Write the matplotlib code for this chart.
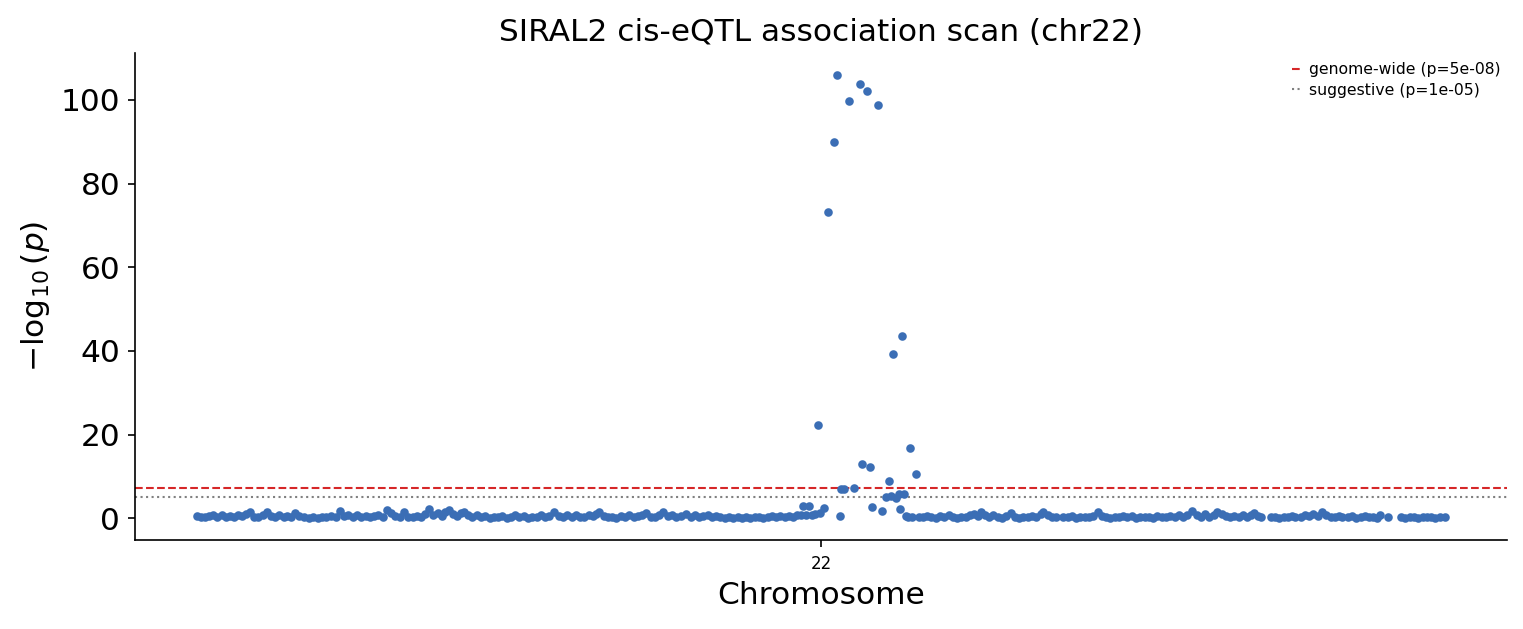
import numpy as np
import matplotlib
matplotlib.use("Agg")
import matplotlib.pyplot as plt

# === data: chr22 positions (Mb) and -log10(p) ===
chrom_label = "22"

left_pos = [16.00, 16.10, 16.22, 16.33, 16.45, 16.56, 16.68, 16.80, 16.91, 17.03,
            17.14, 17.26, 17.37, 17.48, 17.60, 17.71, 17.83, 17.96, 18.07, 18.19,
            18.30, 18.42, 18.53, 18.64, 18.74, 18.86,
            19.00, 19.13, 19.25, 19.38, 19.50, 19.62, 19.75, 19.88, 20.00, 20.12,
            20.24, 20.36, 20.48, 20.60, 20.72, 20.84, 20.96, 21.08, 21.20, 21.32,
            21.44, 21.56, 21.68, 21.80, 21.92, 22.04, 22.16, 22.28, 22.40, 22.50,
            22.62, 22.74, 22.86, 22.96, 23.06, 23.18, 23.30, 23.40, 23.48, 23.60,
            23.72, 23.84, 23.96, 24.08, 24.20, 24.32, 24.44, 24.56, 24.68, 24.80,
            24.92, 25.04, 25.16, 25.28, 25.40, 25.52, 25.64, 25.76, 25.88, 26.02,
            26.14, 26.26, 26.38, 26.50, 26.62, 26.74, 26.86, 26.98, 27.10, 27.20,
            27.28, 27.40, 27.52, 27.64, 27.76, 27.88, 28.00, 28.12, 28.24, 28.36,
            28.48, 28.60, 28.72, 28.84, 28.96, 29.08, 29.20, 29.32, 29.44, 29.56,
            29.72, 29.84, 29.96, 30.08, 30.20, 30.32, 30.44, 30.56, 30.68, 30.80,
            30.92, 31.04, 31.16, 31.28, 31.40, 31.52, 31.64, 31.76, 31.88, 32.00,
            32.12, 32.24, 32.36, 32.48, 32.60, 32.72, 32.84, 32.94]
left_val = [0.6, 0.3, 0.2, 0.5, 0.9, 0.4, 0.7, 0.2, 0.6, 0.3,
            0.8, 0.5, 1.0, 1.6, 0.4, 0.2, 0.9, 1.4, 0.6, 0.3,
            0.7, 0.2, 0.5, 0.3, 1.3, 0.6,
            0.3, 0.1, 0.2, 0.1, 0.4, 0.2, 0.6, 0.3, 1.7, 0.6,
            0.9, 0.4, 0.8, 0.3, 0.6, 0.2, 0.5, 0.9, 0.4, 1.9,
            1.2, 0.6, 0.3, 1.6, 0.4, 0.2, 0.6, 0.3, 1.1, 2.1,
            0.7, 1.3, 0.5, 1.6, 1.9, 1.0, 0.6, 1.2, 1.6, 0.7,
            0.3, 0.9, 0.2, 0.5, 0.1, 0.4, 0.2, 0.6, 0.1, 0.3,
            0.7, 0.2, 0.5, 0.1, 0.4, 0.2, 0.8, 0.3, 0.6, 1.6,
            0.5, 0.2, 0.7, 0.3, 0.9, 0.4, 0.2, 0.8, 0.5, 1.1,
            1.6, 0.6, 0.2, 0.4, 0.1, 0.6, 0.2, 0.8, 0.3, 0.5,
            0.9, 1.3, 0.4, 0.2, 0.7, 1.5, 0.5, 0.8, 0.3, 0.6,
            1.1, 0.4, 0.7, 0.2, 0.5, 0.8, 0.3, 0.6, 0.2, 0.1,
            0.3, 0.1, 0.2, 0.1, 0.3, 0.1, 0.2, 0.4, 0.1, 0.3,
            0.6, 0.2, 0.5, 0.3, 0.6, 0.4, 0.7, 0.9]

peak_pos = [33.00, 33.08, 33.16, 33.24, 33.32, 33.42, 33.46, 33.59, 33.70, 33.87,
            33.96, 34.04, 34.07, 34.15, 34.29, 34.43, 34.60, 34.65, 34.80, 34.87,
            34.94, 35.10, 35.22, 35.33, 35.40, 35.46, 35.52, 35.61, 35.69, 35.72,
            35.78, 35.83, 35.89, 35.95, 36.00, 36.06, 36.16]
peak_val = [2.9, 0.9, 2.9, 0.7, 1.1, 22.2, 1.3, 2.5, 73.3, 89.9,
            105.9, 0.5, 6.9, 6.9, 99.7, 7.2, 103.8, 12.9, 102.1, 12.2,
            2.6, 98.7, 1.8, 5.0, 8.8, 5.3, 39.3, 4.9, 5.8, 2.1,
            43.6, 5.9, 0.5, 0.3, 16.7, 0.2, 10.7]

right_pos = [36.24, 36.36, 36.48, 36.60, 36.72, 36.84, 36.96, 37.08, 37.20, 37.32,
             37.44, 37.56, 37.68, 37.80, 37.92, 38.00, 38.10, 38.22, 38.34, 38.46,
             38.58, 38.70, 38.82, 38.94, 39.06, 39.18, 39.30, 39.42, 39.54, 39.66,
             39.74, 39.86, 39.98, 40.10,
             40.30, 40.42, 40.54, 40.66, 40.78, 40.90, 41.02, 41.14, 41.26, 41.38,
             41.50, 41.62, 41.74, 41.86, 41.98, 42.10, 42.22, 42.34, 42.46, 42.58,
             42.70, 42.82, 42.94, 43.06, 43.18, 43.30, 43.42, 43.54, 43.66, 43.78,
             43.92, 44.04, 44.16, 44.28, 44.40, 44.52, 44.62, 44.74, 44.86, 44.98,
             45.10, 45.22, 45.34, 45.46, 45.56, 45.64, 45.76, 45.86,
             46.12, 46.24, 46.36, 46.48, 46.60, 46.72, 46.80,
             46.96, 47.08, 47.20, 47.32, 47.44, 47.56, 47.68, 47.80, 47.92, 48.04,
             48.12,
             48.28, 48.40, 48.52, 48.64, 48.76, 48.88, 49.00, 49.10, 49.18,
             49.40,
             49.78, 49.90, 50.02, 50.14, 50.26, 50.38, 50.50, 50.62, 50.74, 50.86,
             51.00]
right_val = [0.4, 0.2, 0.6, 0.3, 0.1, 0.5, 0.2, 0.7, 0.3, 0.1,
             0.4, 0.2, 0.8, 1.0, 0.6, 1.4, 0.7, 0.3, 0.9, 0.4,
             0.1, 0.5, 1.2, 0.3, 0.1, 0.4, 0.2, 0.6, 0.3, 1.0,
             1.6, 0.7, 0.2, 0.4,
             0.3, 0.2, 0.5, 0.1, 0.4, 0.2, 0.3, 0.6, 1.4, 0.5,
             0.3, 0.1, 0.4, 0.2, 0.6, 0.3, 0.5, 0.1, 0.3, 0.2,
             0.4, 0.1, 0.5, 0.3, 0.2, 0.6, 0.4, 0.8, 0.3, 0.9,
             1.8, 0.7, 0.3, 1.0, 0.4, 0.8, 1.6, 1.1, 0.5, 0.2,
             0.6, 0.3, 0.9, 0.4, 0.8, 1.2, 0.5, 0.3,
             0.2, 0.4, 0.1, 0.3, 0.2, 0.5, 0.3,
             0.4, 0.8, 0.5, 1.0, 0.6, 1.6, 0.9, 0.4, 0.2, 0.6,
             0.3,
             0.2, 0.5, 0.1, 0.3, 0.6, 0.2, 0.4, 0.1, 0.9,
             0.4,
             0.3, 0.1, 0.4, 0.2, 0.1, 0.3, 0.2, 0.4, 0.1, 0.3,
             0.2]

gw_p = 5e-8
sugg_p = 1e-5

pos = np.array(left_pos + peak_pos + right_pos)
logp = np.array(left_val + peak_val + right_val)

# === plot ===
fig, ax = plt.subplots(figsize=(1523 / 150, 629 / 150), dpi=150)
fig.subplots_adjust(left=0.0886, right=0.9895, top=0.9157, bottom=0.1415)

ax.scatter(pos, logp, s=17, color="#3b6eb5", linewidths=0, zorder=3)

ax.axhline(-np.log10(gw_p), color="#d62728", ls="--", lw=1.0,
           label=f"genome-wide (p={gw_p:.0e})")
ax.axhline(-np.log10(sugg_p), color="gray", ls=":", lw=1.0,
           label=f"suggestive (p={sugg_p:.0e})")

ax.set_xticks([(pos.min() + pos.max()) / 2])
ax.set_xticklabels([chrom_label], fontsize=8)
ax.tick_params(axis="y", labelsize=15)
ax.set_xlabel("Chromosome", fontsize=15)
ax.set_ylabel(r"$-\log_{10}(p)$", fontsize=15)
ax.set_title("SIRAL2 cis-eQTL association scan (chr22)", fontsize=15)

ax.spines["top"].set_visible(False)
ax.spines["right"].set_visible(False)

ax.legend(loc="upper right", bbox_to_anchor=(1.0, 0.994), frameon=False,
          fontsize=7.5, handlelength=0.6, handletextpad=0.5,
          borderaxespad=0.0, labelspacing=0.35)

fig.savefig("out.png", dpi=150)
